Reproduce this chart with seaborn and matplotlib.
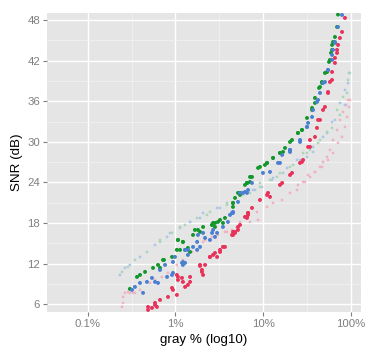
import matplotlib
matplotlib.use("Agg")
import matplotlib.pyplot as plt
import seaborn as sns
import pandas as pd
from matplotlib.ticker import FixedLocator

# ---- data (gray % , SNR dB) ----
green_x = [0.303, 0.365, 0.395, 0.451, 0.556, 0.634, 0.668, 0.723, 0.916, 1.07, 1.22, 1.29, 1.39,
           1.67, 1.91, 2.07, 2.62, 2.83, 3.06, 3.68, 4.54, 4.79, 5.46, 6.56, 5.18, 6.56, 7.48, 8.77,
           10.5, 11.1, 13.0, 15.6, 16.9, 20.3, 25.0, 27.8, 36.2, 39.1, 44.6, 47.0, 53.7, 57.9, 61.2,
           66.1, 69.8, 71.6, 9.22, 11.1, 7.10, 6.22, 5.46,
           6.56, 7.10, 5.46, 4.54, 4.54, 3.23, 2.69, 2.62, 2.83, 3.49, 1.81, 1.59, 1.22, 1.07, 1.04,
           1.13, 1.47, 0.741,
           62.8, 61.2, 59.6, 56.5, 50.8, 47.0, 43.5, 39.1, 36.2, 31.7, 27.8, 25.0, 21.4, 17.8, 15.6,
           13.0]
green_y = [8.27, 10.04, 10.33, 10.78, 11.37, 11.81, 11.37, 12.55, 12.99, 15.50, 15.21, 14.03, 14.32,
           16.98, 16.69, 17.42, 17.72, 18.01, 18.16, 18.75, 20.97, 21.71, 22.45, 23.92, 22.45, 23.92,
           24.81, 26.14, 26.58, 26.88, 27.62, 28.35, 28.50, 29.98, 31.31, 31.75, 35.0, 36.48, 38.1,
           38.84, 40.32, 42.09, 43.57, 45.49, 46.97, 48.8, 26.29, 26.88, 24.81, 23.63, 22.45,
           23.92, 24.07, 22.15, 20.97, 20.38, 18.46, 18.01, 17.72, 17.42, 18.01, 16.98, 16.24, 15.21,
           15.50, 14.03, 14.03, 13.73, 12.55,
           44.75, 44.31, 43.13, 41.80, 40.17, 38.69, 37.96, 35.74, 34.71, 33.52, 31.75, 31.31, 30.27,
           29.09, 28.35, 27.62]

blue_x = [0.320, 0.346, 0.395, 0.428, 0.474, 0.541, 0.586, 0.634, 0.804, 0.916, 1.19, 1.22, 1.39,
          1.77, 1.91, 2.18, 2.48, 2.83, 2.99, 3.49, 4.43, 4.54, 5.18, 5.46, 4.20, 5.91, 6.22, 7.48,
          9.98, 12.0, 15.6, 20.3, 20.3, 26.4, 31.7, 32.6, 37.2, 42.4, 50.8, 55.1, 61.2, 66.1, 71.6,
          79.6,
          6.56, 6.74, 4.54, 3.98, 2.69, 2.62, 2.07, 1.81, 1.77, 1.59, 1.39, 1.29, 0.99, 0.939, 1.22,
          1.29, 0.762, 0.668, 0.939,
          66.1, 62.8, 61.2, 55.1, 48.3, 44.6, 41.2, 36.2, 31.7, 26.4, 20.3, 16.5, 14.8]
blue_y = [8.12, 8.56, 9.15, 7.68, 9.30, 9.89, 9.30, 9.15, 10.04, 10.33, 12.11, 11.81, 13.29,
          14.03, 14.47, 15.80, 15.50, 15.95, 16.54, 17.42, 19.49, 19.64, 21.12, 22.45, 19.20, 22.45,
          22.59, 23.92, 25.40, 25.55, 26.88, 28.50, 28.80, 29.98, 32.2, 32.79, 34.71, 36.18, 38.84,
          40.61, 42.83, 44.75, 46.97, 48.74,
          22.45, 22.89, 19.49, 18.16, 16.98, 16.54, 16.54, 16.24, 15.21, 14.47, 14.03, 14.03, 12.99,
          12.25, 12.25, 12.11, 11.81, 11.07, 10.63,
          44.60, 43.57, 42.09, 40.61, 38.69, 37.22, 35.89, 33.67, 32.2, 30.27, 28.80, 28.06, 26.88]

red_x = [0.488, 0.541, 0.586, 0.488, 0.586, 0.616, 0.668, 0.824, 0.939, 1.04, 1.07, 1.19, 1.22,
         1.39, 1.47, 1.91, 2.01, 2.07, 2.48, 2.83, 2.99, 3.23, 3.68, 4.43, 4.79, 5.18, 6.56, 6.74,
         4.54, 5.18, 6.22, 6.74, 7.48, 9.22, 11.4, 12.0, 15.6, 20.3, 26.4, 28.6, 32.6, 34.3, 41.2,
         42.4, 50.8, 55.1, 57.9, 61.2, 66.1, 69.8, 75.3, 79.6, 85.9,
         11.1, 6.74, 6.56, 5.46, 4.54, 4.79, 3.49, 3.23, 2.69, 2.48, 2.18, 1.91, 2.01, 1.47, 1.04,
         1.07, 1.29, 0.916,
         71.6, 69.8, 66.1, 61.2, 55.1, 48.3, 44.6, 39.1, 34.3, 27.8, 21.4, 16.5]
red_y = [5.61, 5.46, 5.90, 5.16, 6.20, 5.61, 6.64, 7.08, 8.12, 7.38, 10.04, 9.89, 9.30,
         8.86, 9.30, 11.81, 11.07, 10.33, 12.99, 13.58, 12.99, 14.03, 14.47, 16.24, 16.69, 16.98,
         18.75, 19.20, 16.24, 17.42, 18.90, 19.49, 20.23, 21.41, 22.45, 21.86, 23.63, 25.10, 26.88,
         27.32, 29.24, 30.27, 32.05, 33.23, 35.15, 37.36, 38.84, 40.32, 42.39, 43.57, 45.34, 46.23,
         48.3,
         22.15, 19.49, 18.90, 17.72, 16.69, 16.54, 14.47, 13.73, 13.29, 12.99, 11.81, 11.66, 10.78,
         10.04, 10.33, 9.59, 8.56, 8.41,
         44.31, 43.13, 41.65, 39.14, 37.22, 34.71, 33.23, 30.72, 29.24, 27.03, 25.40, 23.92]

paleblue_x = [0.233, 0.266, 0.303, 0.395, 0.586, 0.804, 1.13, 1.47, 2.07, 2.99, 5.46, 8.09, 9.73,
              13.0, 16.9, 24.4, 31.7, 37.2, 48.3, 61.2, 75.3, 85.9, 95.4,
              93.1, 85.9, 66.1, 53.7, 37.2, 26.4, 18.8, 12.6,
              0.869, 1.47, 1.91, 3.23, 7.69]
paleblue_y = [10.33, 11.37, 11.81, 12.99, 14.77, 15.95, 17.28, 18.16, 19.49, 20.23, 22.15, 22.89, 23.33,
              24.66, 25.40, 27.32, 27.76, 28.50, 30.72, 32.93, 35.74, 37.66, 40.17,
              38.69, 35.44, 33.23, 31.31, 29.24, 27.32, 26.14, 24.37,
              16.54, 18.16, 18.75, 20.23, 22.89]

palegreen_x = [0.246, 0.288, 0.346, 0.474, 0.668, 0.916, 1.29, 1.77, 2.29, 3.88, 7.10, 9.22, 12.0,
               15.6, 20.3, 28.6, 34.3, 42.4, 53.7, 69.8, 81.7, 93.1,
               97.9, 90.7, 75.3, 61.2, 44.6, 31.7, 22.0, 14.4,
               0.668, 1.13, 2.48, 3.88, 5.91, 9.22]
palegreen_y = [10.78, 11.51, 12.55, 13.73, 15.50, 16.54, 17.72, 18.75, 19.20, 20.97, 22.45, 23.92, 24.37,
               25.40, 26.29, 28.35, 28.80, 29.83, 31.46, 34.71, 36.63, 39.14,
               40.17, 37.22, 33.97, 32.05, 30.27, 28.35, 26.58, 24.81,
               15.21, 17.42, 19.64, 20.67, 22.15, 23.33]

pink_x = [0.246, 0.253, 0.253, 0.266, 0.288, 0.303, 0.329, 0.346, 0.395, 0.514, 0.586, 0.703,
          0.824, 1.04, 1.22, 1.55, 1.91, 2.18, 2.62, 3.06, 3.68, 4.43, 5.05, 5.46, 6.56, 8.53, 11.1,
          13.0, 16.5, 20.3, 24.4, 30.1, 34.3, 39.1, 44.6, 48.3, 53.7, 57.9, 62.8, 69.8, 75.3, 81.7,
          88.4, 93.1,
          97.9, 95.4, 90.7, 85.9, 79.6, 71.6, 62.8, 55.1, 47.0, 39.1, 32.6, 28.6, 25.0,
          2.07, 2.83, 3.88, 5.05, 7.10, 8.77]
pink_y = [5.61, 6.20, 7.08, 7.68, 7.82, 7.68, 7.68, 7.68, 8.12, 9.15, 9.59, 10.04,
          10.63, 11.81, 12.55, 13.73, 14.47, 15.50, 15.95, 16.24, 16.69, 16.98, 17.42, 18.16, 18.90,
          19.64, 20.38, 20.97, 21.41, 22.45, 22.89, 24.07, 24.81, 25.55, 26.29, 27.03, 27.76, 28.80,
          30.27, 31.75, 33.23, 34.41, 35.44, 36.18,
          36.18, 35.15, 33.67, 32.2, 30.72, 29.83, 28.35, 27.32, 26.29, 25.55, 25.10, 24.07, 23.63,
          15.21, 15.95, 16.69, 17.28, 18.16, 18.46]

x_ticks = [0.1, 1, 10, 100]
x_tick_labels = ["0.1%", "1%", "10%", "100%"]
y_ticks = [6, 12, 18, 24, 30, 36, 42, 48]

series = [
    ("pale pink", pink_x, pink_y, "#f0b3c2", 4.0),
    ("pale blue", paleblue_x, paleblue_y, "#adc6e6", 4.0),
    ("pale green", palegreen_x, palegreen_y, "#acd6b6", 4.0),
    ("green", green_x, green_y, "#13962c", 8.0),
    ("blue", blue_x, blue_y, "#4a7fd2", 8.0),
    ("red", red_x, red_y, "#e8325a", 8.0),
]

sns.set_theme(style="darkgrid")
plt.rcParams['font.family'] = ['Liberation Sans', 'DejaVu Sans']

fig = plt.figure(figsize=(3.84, 3.63), dpi=100)
ax = fig.add_axes([47 / 384, 1 - 311.7 / 363, (361 - 47) / 384, (311.7 - 13) / 363])
ax.set_facecolor("#e5e5e5")

for name, xs, ys, col, s in series:
    df = pd.DataFrame({"gray": xs, "snr": ys})
    sns.scatterplot(data=df, x="gray", y="snr", ax=ax, color=col, s=s,
                    linewidth=0, edgecolor="none", legend=False)

ax.set_xscale("log")
ax.set_xlim(10 ** -1.464, 10 ** 2.117)
ax.set_ylim(4.9, 49.03)
ax.set_xticks(x_ticks)
ax.set_xticklabels(x_tick_labels)
ax.xaxis.set_minor_locator(FixedLocator([10 ** -0.5, 10 ** 0.5, 10 ** 1.5]))
ax.set_yticks(y_ticks)
ax.set_yticklabels([str(v) for v in y_ticks])
ax.yaxis.set_minor_locator(FixedLocator([9, 15, 21, 27, 33, 39, 45]))

ax.grid(which="major", color="white", linewidth=1.0)
ax.grid(which="minor", color="#f2f2f2", linewidth=0.5)
ax.set_axisbelow(True)
for sp in ax.spines.values():
    sp.set_visible(False)
ax.tick_params(which="minor", length=0)
ax.tick_params(which="major", length=3, width=0.8, color="#7f7f7f", labelcolor="#7f7f7f",
               labelsize=8.2, pad=2, bottom=True, left=True)

ax.set_xlabel("gray % (log10)", fontsize=9.6, color="black", labelpad=4)
ax.set_ylabel("SNR (dB)", fontsize=9.6, color="black", labelpad=3)

fig.savefig("out.png", dpi=100)
